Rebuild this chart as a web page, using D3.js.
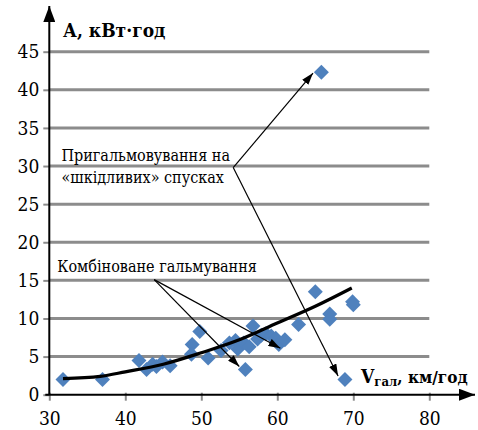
<!DOCTYPE html>
<html>
<head>
<meta charset="utf-8">
<script src="https://cdn.jsdelivr.net/npm/d3@7"></script>
<style>
  body { margin: 0; background: #fff; }
</style>
</head>
<body>
<svg id="chart" width="478" height="430"></svg>
<script>
// speed of braking, km/h
const speeds = [31.8, 37.0, 41.8, 42.8, 43.6, 44.1, 44.9, 45.9, 48.8, 48.7, 49.8, 50.9, 52.6, 53.7,
  54.5, 54.8, 55.6, 55.8, 56.3, 56.8, 57.4, 57.9, 58.5, 59.2, 59.8, 60.2, 61.0, 62.8, 65.0,
  66.9, 66.9, 69.9, 70.0, 68.9, 65.8];
// energy, kWh
const energy = [2.0, 2.0, 4.5, 3.3, 4.0, 3.7, 4.3, 3.8, 6.6, 5.3, 8.3, 4.8, 5.8, 6.8,
  7.1, 6.0, 6.8, 3.3, 6.3, 9.0, 7.3, 7.8, 8.0, 7.7, 7.4, 6.6, 7.2, 9.2, 13.5,
  10.6, 9.9, 12.2, 11.8, 2.0, 42.3];

// trend curve
const trendV = [31.8, 36.7, 40, 45, 50, 55, 60, 65, 69.8];
const trendA = [2.1, 2.4, 3.0, 4.0, 5.5, 7.2, 9.4, 11.6, 14.0];

const xTicks = [30, 40, 50, 60, 70, 80];
const yTicks = [0, 5, 10, 15, 20, 25, 30, 35, 40, 45];

// annotations (data units)
const noteBraking = { lines: ['Пригальмовування на', '«шкідливих» спусках'], at: [31.6, 30.6],
  vertex: [54.2, 29.8], tips: [[64.7, 42.2], [68.0, 2.45]] };
const noteCombined = { lines: ['Комбіноване гальмування'], at: [31.05, 16.1],
  vertex: [43.8, 15.1], tips: [[55.0, 3.7], [60.4, 6.1]] };

const FONT = 'DejaVu Serif Condensed';

const svg = d3.select('#chart');

const x = d3.scaleLinear().domain([30, 80]).range([49.3, 429.3]);
const y = d3.scaleLinear().domain([0, 45]).range([394.7, 51.7]);

const defs = svg.append('defs');
defs.append('marker')
  .attr('id', 'arr')
  .attr('viewBox', '0 0 12 8')
  .attr('refX', 12).attr('refY', 4)
  .attr('markerWidth', 12).attr('markerHeight', 8)
  .attr('markerUnits', 'userSpaceOnUse')
  .attr('orient', 'auto')
  .append('path').attr('d', 'M0,0L12,4L0,8Z').attr('fill', '#000');
defs.append('marker')
  .attr('id', 'axarr')
  .attr('viewBox', '0 0 16 12')
  .attr('refX', 16).attr('refY', 6)
  .attr('markerWidth', 16).attr('markerHeight', 12)
  .attr('markerUnits', 'userSpaceOnUse')
  .attr('orient', 'auto')
  .append('path').attr('d', 'M0,0L16,6L0,12Z').attr('fill', '#000');

// gridlines
svg.append('g')
  .selectAll('line')
  .data(yTicks.filter(d => d > 0))
  .join('line')
  .attr('x1', x(30)).attr('x2', x(80))
  .attr('y1', d => y(d)).attr('y2', d => y(d))
  .attr('stroke', '#8c8c8c')
  .attr('stroke-width', 3);

// y axis
const yAxis = d3.axisLeft(y).tickValues(yTicks).tickSize(6).tickPadding(4);
const gy = svg.append('g').attr('transform', 'translate(' + x(30) + ',0)').call(yAxis);
gy.attr('font-family', FONT);
gy.select('.domain').remove();
gy.selectAll('.tick line').attr('stroke', '#8c8c8c').attr('stroke-width', 2);
gy.selectAll('.tick text').attr('font-size', 19);

// x axis
const xAxis = d3.axisBottom(x).tickValues(xTicks).tickSize(6).tickPadding(11).tickFormat(d3.format('d'));
const gx = svg.append('g').attr('transform', 'translate(0,' + y(0) + ')').call(xAxis);
gx.attr('font-family', FONT);
gx.select('.domain').remove();
gx.selectAll('.tick line').attr('stroke', '#8c8c8c').attr('stroke-width', 2).attr('y1', -2);
gx.selectAll('.tick text').attr('font-size', 19);

// axis lines with arrows
svg.append('line')
  .attr('x1', x(30)).attr('y1', y(0)).attr('x2', x(30)).attr('y2', 6)
  .attr('stroke', '#000').attr('stroke-width', 2).attr('marker-end', 'url(#axarr)');
svg.append('line')
  .attr('x1', x(30) - 4).attr('y1', y(0)).attr('x2', 475).attr('y2', y(0))
  .attr('stroke', '#000').attr('stroke-width', 2).attr('marker-end', 'url(#axarr)');

// axis titles
svg.append('text')
  .attr('x', 63).attr('y', 37)
  .attr('font-family', FONT)
  .attr('font-size', 19).attr('font-weight', 'bold')
  .text('А, кВт·год');

const xt = svg.append('text')
  .attr('x', 361).attr('y', 383)
  .attr('font-family', FONT)
  .attr('font-size', 17).attr('font-weight', 'bold');
xt.append('tspan').attr('font-size', 19).text('V');
xt.append('tspan').attr('font-size', 13).attr('dy', 3).text('гал');
xt.append('tspan').attr('dy', -3).text(', км/год');

// points
const pts = speeds.map((v, i) => ({ v: v, a: energy[i] }));
svg.append('g')
  .selectAll('path')
  .data(pts)
  .join('path')
  .attr('d', d3.symbol().type(d3.symbolSquare).size(112))
  .attr('transform', d => 'translate(' + x(d.v) + ',' + y(d.a) + ') rotate(45)')
  .attr('fill', '#4f81bd');

// trend
const trend = trendV.map((v, i) => [v, trendA[i]]);
svg.append('path')
  .datum(trend)
  .attr('d', d3.line().x(d => x(d[0])).y(d => y(d[1])).curve(d3.curveMonotoneX))
  .attr('fill', 'none')
  .attr('stroke', '#000')
  .attr('stroke-width', 3.2);

// annotations
function note(n) {
  const g = svg.append('g');
  n.lines.forEach((t, i) => {
    g.append('text')
      .attr('x', x(n.at[0]))
      .attr('y', y(n.at[1]) + i * 21.5)
      .attr('font-family', FONT)
      .attr('font-size', 16)
      .text(t);
  });
  n.tips.forEach(tp => {
    g.append('line')
      .attr('x1', x(n.vertex[0])).attr('y1', y(n.vertex[1]))
      .attr('x2', x(tp[0])).attr('y2', y(tp[1]))
      .attr('stroke', '#000').attr('stroke-width', 1.2)
      .attr('marker-end', 'url(#arr)');
  });
}
note(noteBraking);
note(noteCombined);
</script>
</body>
</html>
